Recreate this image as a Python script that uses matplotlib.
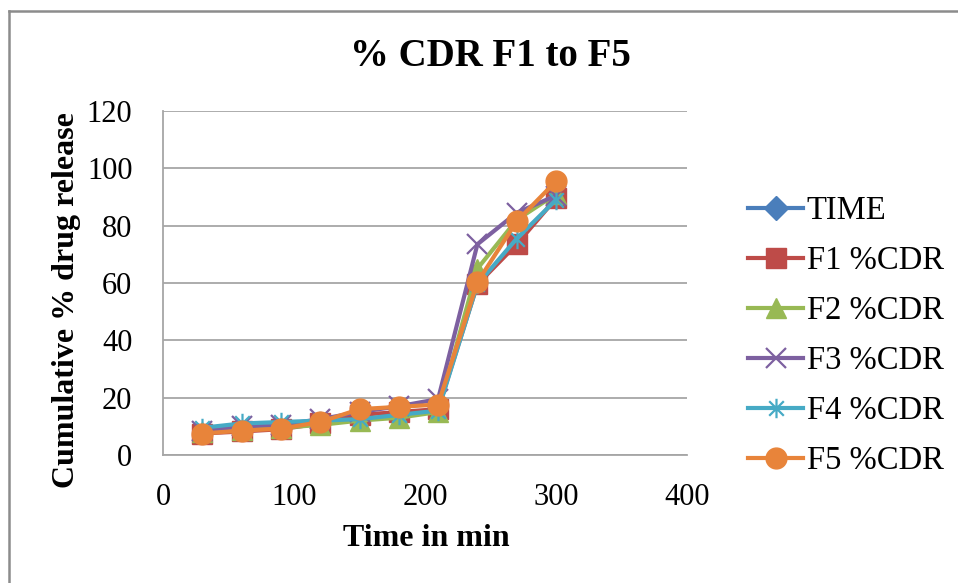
import matplotlib
matplotlib.use("Agg")
import matplotlib.pyplot as plt
from matplotlib.path import Path
from matplotlib.lines import Line2D

# ---- data ----
time_min = [30, 60, 90, 120, 150, 180, 210, 240, 270, 300]
time_series = []  # TIME series: legend entry only, no visible points
f1_cdr = [7.5, 8.2, 9.0, 11.0, 14.0, 15.0, 16.0, 59.5, 73.5, 89.5]
f2_cdr = [8.0, 8.8, 9.5, 10.5, 12.0, 13.0, 15.0, 65.0, 82.0, 91.0]
f3_cdr = [8.5, 10.0, 10.5, 12.5, 15.0, 17.0, 19.5, 73.5, 84.5, 90.5]
f4_cdr = [9.5, 11.0, 11.5, 12.0, 12.5, 14.0, 15.5, 59.5, 75.5, 89.0]
f5_cdr = [7.5, 8.5, 9.2, 11.5, 16.0, 16.8, 17.6, 60.3, 81.5, 95.5]
series_labels = ["TIME", "F1 %CDR", "F2 %CDR", "F3 %CDR", "F4 %CDR", "F5 %CDR"]
x_ticks = [0, 100, 200, 300, 400]
y_ticks = [0, 20, 40, 60, 80, 100, 120]

W, H = 958, 583
fig = plt.figure(figsize=(W / 100, H / 100), dpi=100)
plt.rcParams['font.family'] = ['Liberation Serif', 'DejaVu Serif']

left, right, top, bottom = 163, 687, 111, 455
ax = fig.add_axes([left / W, 1 - bottom / H, (right - left) / W, (bottom - top) / H])

# star marker (Excel style: X with vertical bar)
star_path = Path(
    [(0, -1), (0, 1), (-0.75, -0.75), (0.75, 0.75), (-0.75, 0.75), (0.75, -0.75)],
    [Path.MOVETO, Path.LINETO, Path.MOVETO, Path.LINETO, Path.MOVETO, Path.LINETO],
)

colors = ["#4A7EBB", "#BE4B48", "#98B954", "#7D60A0", "#46AAC5", "#E8843A"]
lw = 3.0
ms = 14

ax.plot(time_series, time_series, color=colors[0], lw=lw, marker='D', ms=12, label=series_labels[0])
ax.plot(time_min, f1_cdr, color=colors[1], lw=lw, marker='s', ms=ms, mec=colors[1], label=series_labels[1])
ax.plot(time_min, f2_cdr, color=colors[2], lw=lw, marker='^', ms=ms, mec=colors[2], label=series_labels[2])
ax.plot(time_min, f3_cdr, color=colors[3], lw=lw, marker='x', ms=ms, mew=1.6, label=series_labels[3])
ax.plot(time_min, f4_cdr, color=colors[4], lw=lw, marker=star_path, ms=ms, mew=1.6, label=series_labels[4])
ax.plot(time_min, f5_cdr, color=colors[5], lw=lw, marker='o', ms=15, mec=colors[5], label=series_labels[5])

ax.set_xlim(0, 400)
ax.set_ylim(0, 120)
ax.set_xticks(x_ticks)
ax.set_yticks(y_ticks)
ax.tick_params(axis='y', length=0, labelsize=22, pad=22)
ax.tick_params(axis='x', length=0, labelsize=22, pad=20)
ax.grid(axis='y', color='#A6A6A6', lw=1.3)
ax.set_axisbelow(True)
for s in ['top', 'right']:
    ax.spines[s].set_visible(False)
for s in ['left', 'bottom']:
    ax.spines[s].set_color('#A6A6A6')
    ax.spines[s].set_linewidth(1.3)

fig.text(490 / W, 1 - 56 / H, "% CDR F1 to F5", ha='center', va='center',
         fontsize=28, fontweight='bold')
fig.text(426 / W, 1 - 538 / H, "Time in min", ha='center', va='center',
         fontsize=23, fontweight='bold')
fig.text(67 / W, 1 - 300 / H, "Cumulative % drug release", ha='center', va='center',
         rotation=90, fontsize=23, fontweight='bold')

leg = fig.legend(loc='center left', bbox_to_anchor=(748 / W, 1 - 336 / H), frameon=False,
                 fontsize=23.5, handlelength=1.7, handletextpad=0.1, labelspacing=0.6,
                 borderaxespad=0, borderpad=0)

# chart outer border (top and left visible)
fig.add_artist(Line2D([9 / W, 9 / W], [0, 1 - 11 / H], transform=fig.transFigure,
                      color='#8C8C8C', lw=1.8))
fig.add_artist(Line2D([9 / W, 1], [1 - 11 / H, 1 - 11 / H], transform=fig.transFigure,
                      color='#8C8C8C', lw=1.8))

fig.savefig("out.png", dpi=100)
